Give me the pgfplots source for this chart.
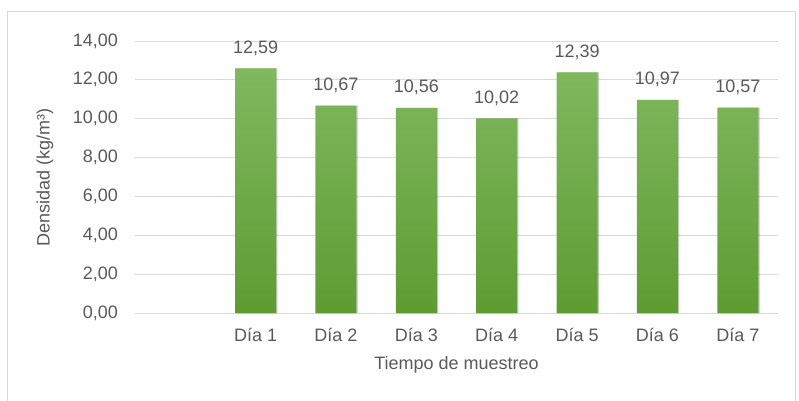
\documentclass[border=0pt]{standalone}
\usepackage{fontspec}
\setmainfont{Liberation Sans}
\usepackage{pgfplots}
\pgfplotsset{compat=1.18}
\usetikzlibrary{shadows}
\definecolor{txt}{HTML}{595959}
\definecolor{grd}{HTML}{D9D9D9}
\definecolor{gtop}{RGB}{128,184,94}
\definecolor{gbot}{RGB}{94,156,50}
\begin{document}
\begin{tikzpicture}[x=1pt,y=1pt]
\useasboundingbox (-135,-87) rectangle (664,313);
\draw[grd, line width=1pt] (-127,-120) rectangle (660,302);
\begin{axis}[
  at={(0,0)}, anchor=south west,
  scale only axis, width=643pt, height=272pt,
  xmin=-0.5, xmax=7.5, ymin=0, ymax=14,
  ytick={0,2,...,14},
  xtick={1,2,3,4,5,6,7},
  xticklabels={Día 1,Día 2,Día 3,Día 4,Día 5,Día 6,Día 7},
  ymajorgrids, grid style={grd, line width=1pt},
  axis line style={draw=none},
  major tick length=0pt,
  tick label style={font=\fontsize{18}{20}\selectfont, text=txt, inner sep=0pt},
  xticklabel style={anchor=north, yshift=-15pt},
  yticklabel style={anchor=east, xshift=-17pt},
  /pgf/number format/fixed,
  /pgf/number format/fixed zerofill,
  /pgf/number format/precision=2,
  /pgf/number format/use comma,
  /pgf/number format/1000 sep={},
  /pgf/number format/assume math mode=true,
  ylabel={Densidad (kg/m³)},
  xlabel={Tiempo de muestreo},
  every axis y label/.style={at={(axis description cs:0,0.5)}, rotate=90, anchor=center, yshift=90pt, font=\fontsize{18}{20}\selectfont, text=txt},
  every axis x label/.style={at={(axis description cs:0.5,0)}, anchor=center, yshift=-52pt, font=\fontsize{18}{20}\selectfont, text=txt},
  clip=false,
]
\addplot[ybar, bar width=0.51, draw=none, top color=gtop, bottom color=gbot,
  drop shadow={shadow xshift=1.2pt, shadow yshift=0pt, opacity=0.18, fill=black},
  nodes near coords,
  every node near coord/.append style={font=\fontsize{18}{20}\selectfont, text=txt, anchor=base, inner sep=0pt, yshift=15pt}]
  coordinates {(1,12.59) (2,10.67) (3,10.56) (4,10.02) (5,12.39) (6,10.97) (7,10.57)};
\end{axis}
\end{tikzpicture}
\end{document}
